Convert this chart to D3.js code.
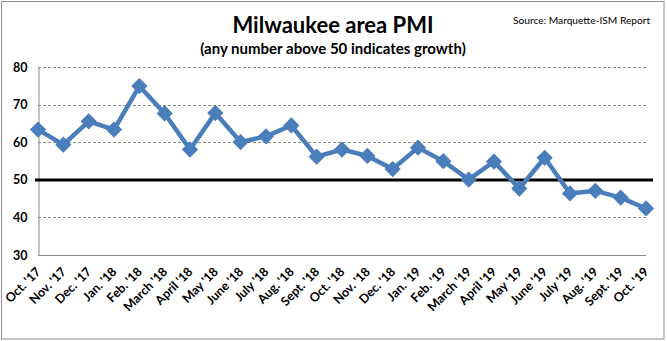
<!DOCTYPE html>
<html><head><meta charset="utf-8">
<script src="https://cdn.jsdelivr.net/npm/d3@7"></script>
<style>body{margin:0;background:#fff}svg{display:block}</style>
</head><body>
<svg id="c" width="667" height="341"></svg>
<script>
const months = ["Oct. '17","Nov. '17","Dec. '17","Jan. '18","Feb. '18","March '18","April '18","May '18","June '18","July '18","Aug. '18","Sept. '18","Oct. '18","Nov. '18","Dec. '18","Jan. '19","Feb. '19","March '19","April '19","May '19","June '19","July '19","Aug. '19","Sept. '19","Oct. '19"];
const pmi = [63.4,59.4,65.6,63.4,75.0,67.7,58.1,67.8,60.1,61.6,64.5,56.2,58.1,56.4,52.9,58.6,55.0,50.1,54.9,47.7,55.9,46.4,47.1,45.3,42.4];
const yTicks = [30,40,50,60,70,80];
const threshold = 50;
const title = "Milwaukee area PMI";
const subtitle = "(any number above 50 indicates growth)";
const source = "Source: Marquette-ISM Report";

const svg = d3.select("#c");
const FONT = "Lato, 'Open Sans', sans-serif";
const L = 38, R = 646, T = 67.3, B = 255;
const x = d3.scalePoint().domain(months).range([L, R]);
const y = d3.scaleLinear().domain([30, 80]).range([B, T]);

svg.append("rect").attr("x",1.5).attr("y",1.5).attr("width",662.5).attr("height",337.5)
  .attr("fill","#fff").attr("stroke","#8c8c8c").attr("stroke-width",1);

// gridlines
svg.append("g").selectAll("line").data(yTicks.filter(d=>d>30)).join("line")
  .attr("x1",L).attr("x2",R).attr("y1",d=>Math.round(y(d))+0.5).attr("y2",d=>Math.round(y(d))+0.5)
  .attr("stroke","#8a8a8a").attr("stroke-width",1).attr("stroke-dasharray","3,2");

// axes
const ya = d3.axisLeft(y).tickValues(yTicks).tickSize(0).tickPadding(11);
const gy = svg.append("g").attr("transform",`translate(${L+0.5},0)`).call(ya);
gy.select(".domain").attr("stroke","#8a8a8a");
gy.selectAll("text").attr("font-family",FONT).attr("font-weight","bold").attr("font-size","12.5px").attr("fill","#000");

const xa = d3.axisBottom(x).tickSize(0).tickPadding(0);
const gx = svg.append("g").attr("transform",`translate(0,${Math.round(B)+0.5})`).call(xa);
gx.select(".domain").attr("stroke","#8a8a8a").attr("d",`M${L},0H${R}`);
gx.selectAll("text").attr("font-family",FONT).attr("font-weight","bold").attr("font-size","12.5px").attr("fill","#000")
  .attr("text-anchor","end").attr("dy",0).attr("y",0)
  .attr("transform","translate(3,17) rotate(-45)");

// threshold line
svg.append("line").attr("x1",35).attr("x2",653).attr("y1",y(threshold)).attr("y2",y(threshold))
  .attr("stroke","#000").attr("stroke-width",3);

// series
const line = d3.line().x((d,i)=>x(months[i])).y(d=>y(d));
svg.append("path").datum(pmi).attr("d",line).attr("fill","none").attr("stroke","#4a7ebb").attr("stroke-width",4.5).attr("stroke-linejoin","round");
svg.append("g").selectAll("path").data(pmi).join("path")
  .attr("transform",(d,i)=>`translate(${x(months[i])},${y(d)}) rotate(45)`)
  .attr("d",d3.symbol().type(d3.symbolSquare).size(110))
  .attr("fill","#4a7ebb").attr("stroke","#4a7ebb").attr("stroke-width",1);

// titles
svg.append("text").attr("x",333).attr("y",33).attr("text-anchor","middle").attr("font-family",FONT)
  .attr("font-weight","bold").attr("font-size","22px").text(title);
svg.append("text").attr("x",333).attr("y",54).attr("text-anchor","middle").attr("font-family",FONT)
  .attr("font-weight","bold").attr("font-size","15px").text(subtitle);
svg.append("text").attr("x",513).attr("y",24).attr("font-family",FONT)
  .attr("font-size","10.2px").text(source);
</script>
</body></html>
